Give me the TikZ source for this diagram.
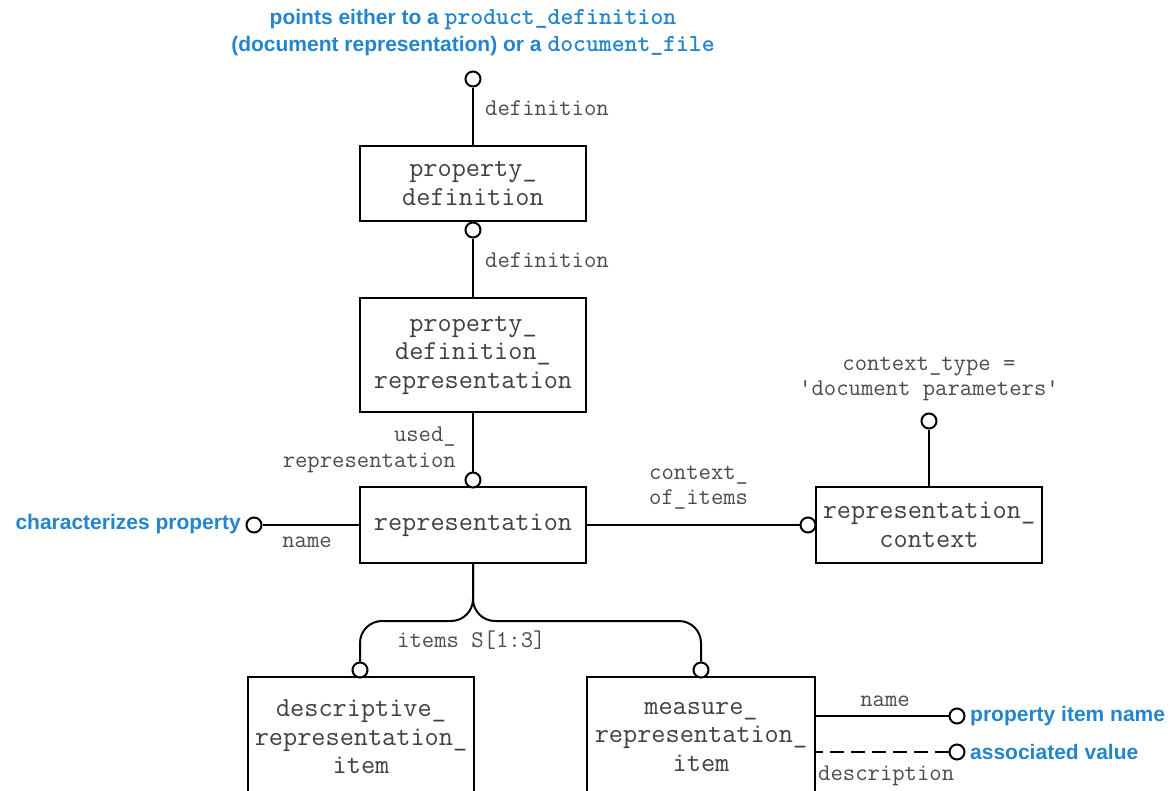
\documentclass[tikz,border=0pt]{standalone}
\usepackage{fontspec}
\newfontfamily\notesans{Liberation Sans}
\definecolor{lnkblue}{RGB}{36,133,204}
\newcommand\boxfont{\ttfamily\fontsize{27.5}{28.5}\selectfont}
\newcommand\rolefont{\ttfamily\fontsize{24}{25.5}\selectfont}
\newcommand\notefont{\notesans\bfseries\fontsize{21}{27}\selectfont}
\newcommand\attr[1]{{\ttfamily\bfseries\fontsize{24.5}{27}\selectfont #1}}
\tikzset{
  entity/.style={draw, line width=2pt, minimum width=226pt, inner sep=0pt,
    align=center, font=\boxfont, text=black!75},
  ring/.style={circle, draw, line width=2pt, fill=white, minimum size=15pt, inner sep=0pt},
  conn/.style={line width=2pt},
  role/.style={font=\rolefont, text=black!70, inner sep=0pt},
  note/.style={font=\notefont, text=lnkblue, inner sep=0pt}
}
\begin{document}
\begin{tikzpicture}[x=1pt, y=-1pt]
  \useasboundingbox (0,0) rectangle (1175,790);
  \fill[white] (0,0) rectangle (1175,790);
  \clip (0,0) rectangle (1175,790);

  % entities
  \node[entity, minimum height=75pt]  (pd)  at (473,183.5) {property\_\\definition};
  \node[entity, minimum height=114pt] (pdr) at (473,355)   {property\_\\definition\_\\representation};
  \node[entity, minimum height=76pt]  (rep) at (473,525)   {representation};
  \node[entity, minimum height=76pt]  (rc)  at (929,525)   {representation\_\\context};
  \node[entity, minimum height=120pt] (dri) at (361,737)   {descriptive\_\\representation\_\\item};
  \node[entity, minimum width=228pt, minimum height=120pt] (mri) at (701,737) {measure\_\\representation\_\\item};

  % attribute end rings
  \node[ring] (t1) at (473,79)  {};
  \node[ring] (t2) at (473,230) {};
  \node[ring] (t3) at (473,480) {};
  \node[ring] (tl) at (254,525) {};
  \node[ring] (tr) at (808,525) {};
  \node[ring] (tc) at (929,421) {};
  \node[ring] (td) at (360,670) {};
  \node[ring] (tm) at (701,670) {};
  \node[ring] (tn) at (957,716) {};
  \node[ring] (tv) at (957,752) {};

  % relationships
  \draw[conn] (t1) -- (pd);
  \draw[conn] (t2) -- (pdr);
  \draw[conn] (pdr) -- (t3);
  \draw[conn] (tl) -- (rep);
  \draw[conn] (rep) -- (tr);
  \draw[conn] (tc) -- (rc);
  \coordinate (fork) at (473,621);
  \draw[conn, rounded corners=22pt] (rep.south) -- (fork) -- (fork -| td) -- (td.north);
  \draw[conn, rounded corners=22pt] (rep.south) -- (fork) -- (fork -| tm) -- (tm.north);
  \draw[conn] (tn) -- (tn -| mri.east);
  \draw[conn, dash pattern=on 14pt off 7pt] (tv) -- (tv -| mri.east);

  % role labels
  \node[role, anchor=west] (l1) at (485,108) {definition};
  \node[role, anchor=west] (l2) at (485,260) {definition};
  \node[role, anchor=east, align=right] (l3) at (456,450) {used\_\\representation};
  \node[role] (l4) at (307,542) {name};
  \node[role, anchor=west, align=left] (l5) at (649,487.5) {context\_\\of\_items};
  \node[role, align=center] (l6) at (929,379) {context\_type =\\\textquotesingle document parameters\textquotesingle};
  \node[role, anchor=west] (l7) at (397,640) {items S[1:3]};
  \node[role] (l8) at (885,701) {name};
  \node[role, anchor=west] (l9) at (818,776) {description};

  % notes
  \node[note, anchor=east] (n1) at (241,524) {characterizes property};
  \node[note, anchor=west] (n2) at (970,716) {property item name};
  \node[note, anchor=west] (n3) at (970,752) {associated value};
  \node[note, align=center] (n4) at (473,32.5) {points either to a \attr{product\_definition}\\(document representation) or a \attr{document\_file}};
\end{tikzpicture}
\end{document}
